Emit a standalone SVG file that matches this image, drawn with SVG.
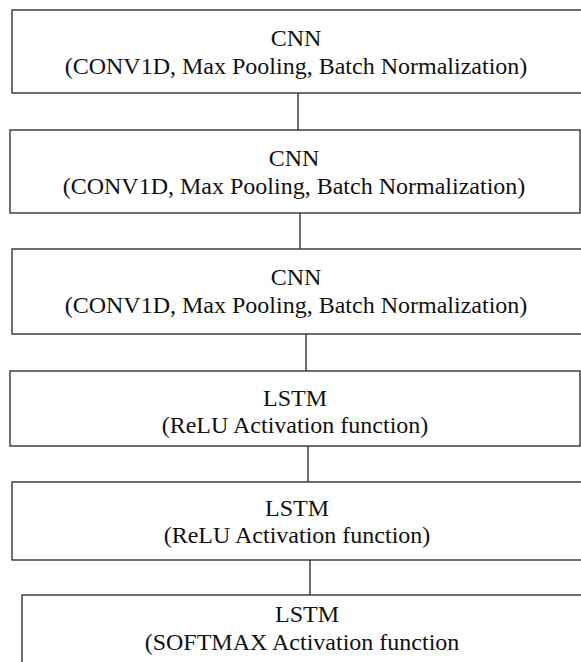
<svg xmlns="http://www.w3.org/2000/svg" width="581" height="662" viewBox="0 0 581 662">
  <style>
    .box { fill: #ffffff; stroke: #333333; stroke-width: 1.4; }
    .conn { stroke: #333333; stroke-width: 1.4; fill: none; }
    .t { font-family: 'Liberation Serif', 'Times New Roman', serif; font-size: 24px; fill: #111111; text-anchor: middle; }
  </style>
  <rect width="581" height="662" fill="#ffffff"/>
  <g id="connectors">
    <line class="conn" x1="298" y1="93" x2="298" y2="130"/>
    <line class="conn" x1="300" y1="213" x2="300" y2="249"/>
    <line class="conn" x1="306" y1="334" x2="306" y2="371"/>
    <line class="conn" x1="308" y1="446" x2="308" y2="482"/>
    <line class="conn" x1="310" y1="560" x2="310" y2="595"/>
  </g>
  <g id="cnn1">
    <rect class="box" x="12" y="10" width="580" height="83"/>
    <text class="t" x="296" y="46">CNN</text>
    <text class="t" x="296" y="74">(CONV1D, Max Pooling, Batch Normalization)</text>
  </g>
  <g id="cnn2">
    <rect class="box" x="10" y="130" width="570" height="83"/>
    <text class="t" x="294" y="166">CNN</text>
    <text class="t" x="294" y="194">(CONV1D, Max Pooling, Batch Normalization)</text>
  </g>
  <g id="cnn3">
    <rect class="box" x="12" y="249" width="580" height="85"/>
    <text class="t" x="296" y="285">CNN</text>
    <text class="t" x="296" y="313">(CONV1D, Max Pooling, Batch Normalization)</text>
  </g>
  <g id="lstm1">
    <rect class="box" x="10" y="371" width="570" height="75"/>
    <text class="t" x="295" y="406">LSTM</text>
    <text class="t" x="295" y="433">(ReLU Activation function)</text>
  </g>
  <g id="lstm2">
    <rect class="box" x="12" y="482" width="580" height="78"/>
    <text class="t" x="297" y="516">LSTM</text>
    <text class="t" x="297" y="543">(ReLU Activation function)</text>
  </g>
  <g id="lstm3">
    <rect class="box" x="22" y="595" width="570" height="90"/>
    <text class="t" x="307" y="622">LSTM</text>
    <text class="t" x="302" y="650">(SOFTMAX Activation function</text>
  </g>
</svg>
